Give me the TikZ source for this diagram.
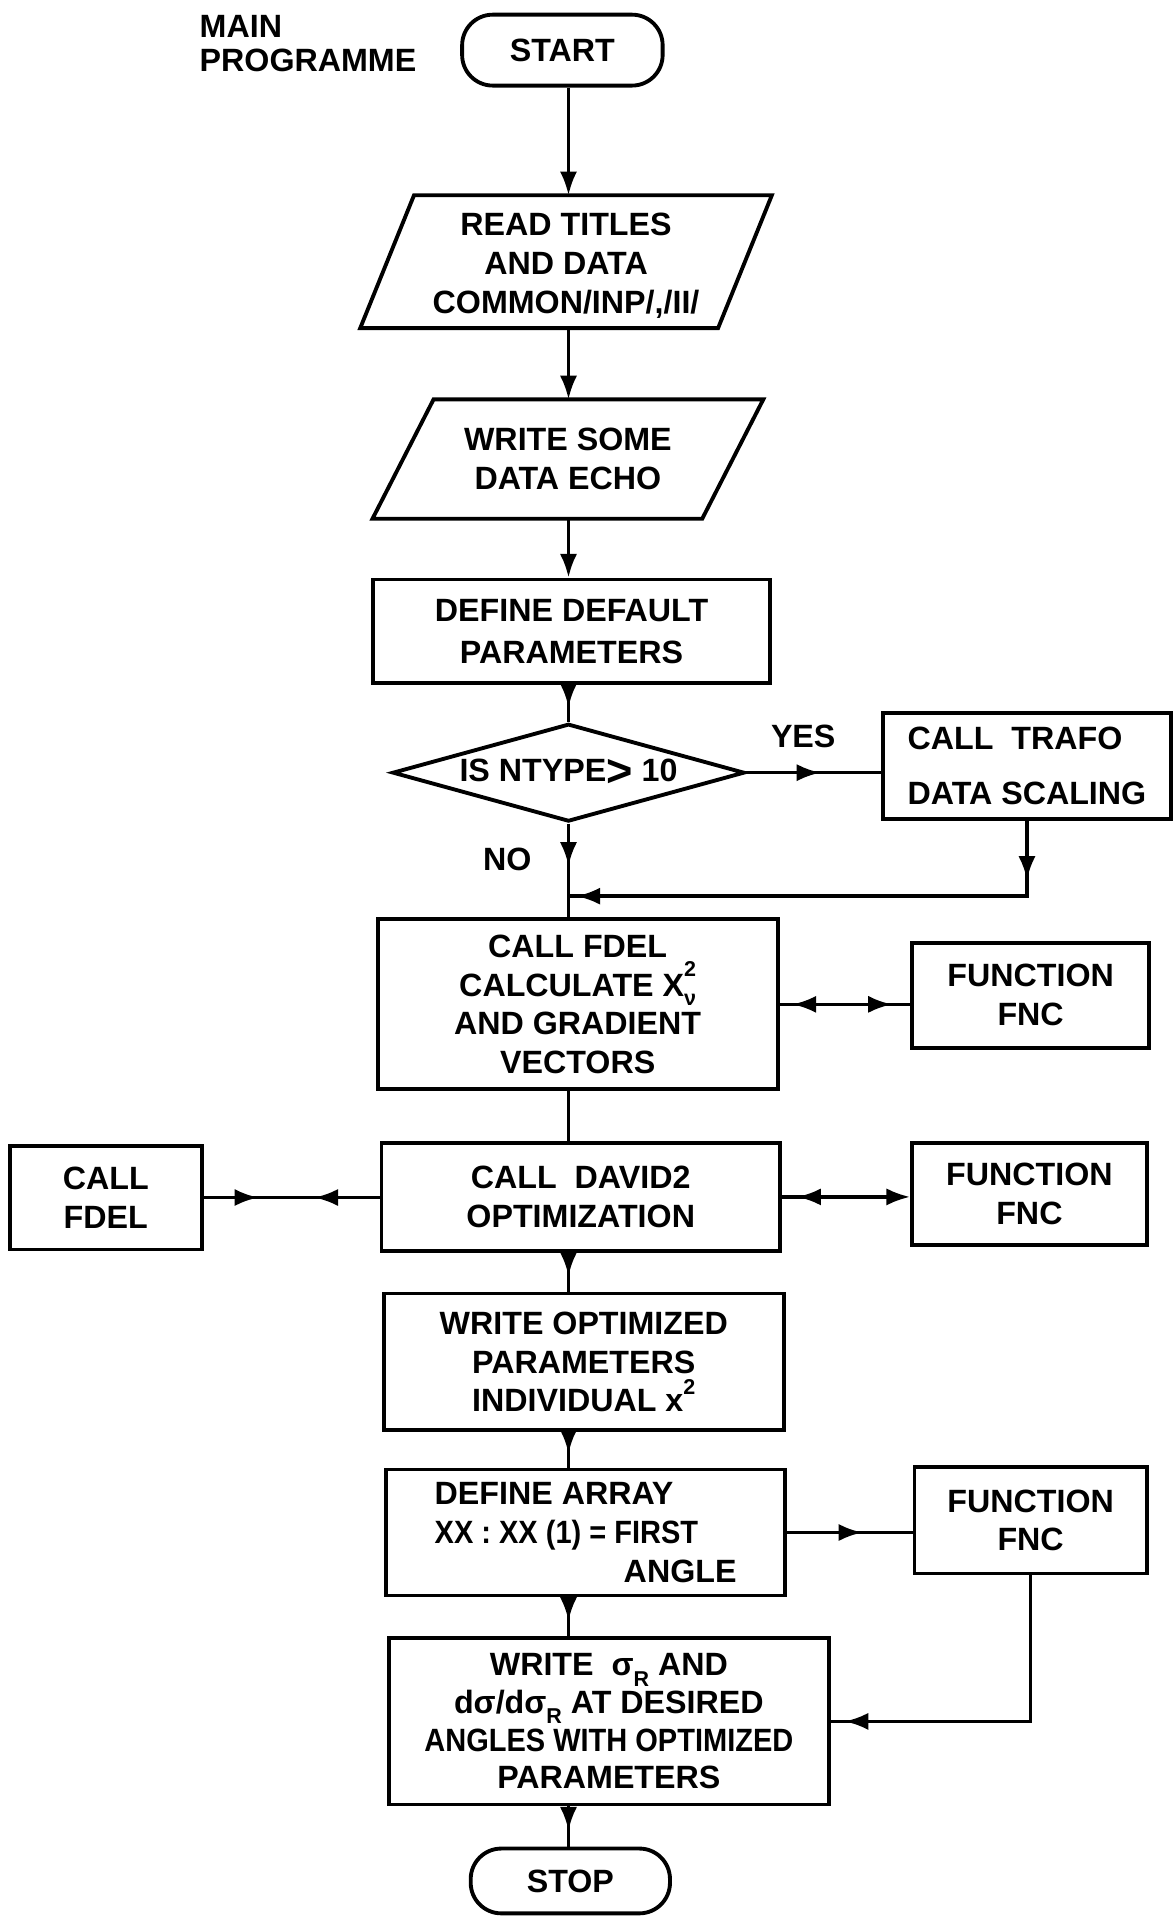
\documentclass[tikz,border=0pt]{standalone}
\usepackage{fontspec}
\setmainfont{Liberation Sans}
\usepackage{graphicx}
\usetikzlibrary{shapes.geometric,arrows.meta,decorations.markings}
\newcommand\supsubx[2]{\rlap{\raisebox{1.15ex}{\fontsize{10}{10}\selectfont #1}}\raisebox{-0.55ex}{\fontsize{10}{10}\selectfont #2}}
\newcommand\subx[1]{\raisebox{-0.6ex}{\fontsize{10}{10}\selectfont #1}}
\newcommand\supx[1]{\raisebox{1.0ex}{\fontsize{10}{10}\selectfont #1}}
\begin{document}
\begin{tikzpicture}[x=0.02cm, y=-0.02cm,
  every node/.style={font=\fontsize{15}{18}\selectfont\bfseries},
  box/.style={draw, rectangle, line width=1.8pt, inner sep=0pt, align=center},
  txt/.style={inner sep=0pt, align=center},
  sz/.style 2 args={minimum width=#1*0.02cm, minimum height=#2*0.02cm},
  term/.style={draw, rectangle, rounded corners=0.5cm, line width=1.8pt, inner sep=0pt},
  conn/.style={line width=1.6pt},
  endtip/.style={-{Latex[length=11pt,width=8pt]}},
  marr/.style={postaction={decorate, decoration={markings, mark=at position #1 with {\arrow{Latex[length=11pt,width=8pt]}}}}},
  marrl/.style={postaction={decorate, decoration={markings, mark=at position #1 with {\arrowreversed{Latex[length=11pt,width=8pt]}}}}},
]
\path[use as bounding box] (0,0) rectangle (961,1568);

\coordinate (col) at (465,0);
\coordinate (join) at (465,733);

\node[txt, align=left, anchor=north west, font=\fontsize{15}{16}\selectfont\bfseries] (title) at (163,12) {MAIN\\PROGRAMME};

\node[term, sz={164}{58}] (start) at (460,41) {START};

\node[txt, sz={292}{108}] (read) at (463,214) {\raisebox{-12pt}{\smash{\begin{tabular}{@{}c@{}}READ TITLES\\AND DATA\\COMMON/INP/,/II/\end{tabular}}}};
\draw[line width=1.8pt] ([xshift=0.44cm]read.north west) -- ([xshift=0.44cm]read.north east) -- ([xshift=-0.44cm]read.south east) -- ([xshift=-0.44cm]read.south west) -- cycle;

\node[txt, sz={269}{97}] (write) at (464.5,375.5) {WRITE SOME\\DATA ECHO};
\draw[line width=1.8pt] ([xshift=0.5cm]write.north west) -- ([xshift=0.5cm]write.north east) -- ([xshift=-0.5cm]write.south east) -- ([xshift=-0.5cm]write.south west) -- cycle;

\node[box, sz={325}{85}, font=\fontsize{15}{19.5}\selectfont\bfseries] (define) at (467.5,516.5) {DEFINE DEFAULT\\PARAMETERS};

\node[draw, diamond, aspect=3.6, line width=1.8pt, inner sep=0pt, sz={288}{80}] (dia) at (465,632) {IS NTYPE\raisebox{-2pt}{\fontsize{21}{21}\selectfont >} 10};

\node[box, sz={236}{87}, align=left, font=\fontsize{15}{25.5}\selectfont\bfseries] (trafo) at (840,626.5) {CALL\ \ TRAFO\\DATA SCALING};

\node[txt] (yes) at (657,602) {YES};
\node[txt] (no) at (415,703) {NO};

\node[box, sz={327}{139}] (fdel) at (472.5,821.5) {CALL FDEL\\CALCULATE X\supsubx{2}{ν}\\AND GRADIENT\\VECTORS};
\node[box, sz={194}{86}] (fnc1) at (843,814) {FUNCTION\\FNC};

\node[box, sz={157}{85}] (lfdel) at (86.5,979.5) {CALL\\FDEL};
\node[box, sz={326}{88}] (david) at (475,979) {CALL\ \ DAVID2\\OPTIMIZATION};
\node[box, sz={192}{83}] (fnc2) at (842,976.5) {FUNCTION\\FNC};

\node[box, sz={327}{112}] (wopt) at (477.5,1114) {WRITE OPTIMIZED\\PARAMETERS\\INDIVIDUAL x\supx{2}};

\node[box, sz={326}{103}, align=left] (array) at (479,1253.5) {DEFINE ARRAY\\\scalebox{0.9}[1]{XX : XX (1) = FIRST}\\\hspace*{88pt}ANGLE};
\node[box, sz={190}{87}] (fnc3) at (843,1243.5) {FUNCTION\\FNC};

\node[box, sz={360}{136}, font=\fontsize{15}{17.5}\selectfont\bfseries] (sigma) at (498,1408) {WRITE\ \ σ\subx{R} AND\\dσ/dσ\subx{R} AT DESIRED\\\scalebox{0.9}[1]{ANGLES WITH OPTIMIZED}\\PARAMETERS};

\node[term, sz={163}{53}] (stop) at (466.5,1538.5) {STOP};

% connectors
\draw[conn, endtip] (start.south -| col) -- (read.north -| col);
\draw[conn, endtip] (read.south -| col) -- (write.north -| col);
\draw[conn, endtip] (write.south -| col) -- (define.north -| col);
\draw[conn, marr=0.6] (define.south -| col) -- (dia.north);
\draw[conn, marr=0.55] (dia.east) -- (dia.east -| trafo.west);
\draw[conn, marr=0.45] (dia.south) -- (dia.south |- fdel.north);
\draw[conn, marr=0.11, marr=0.985] (trafo.south) -- (trafo.south |- join) -- (join);
\draw[conn, marrl=0.1, marr=0.86] (fdel.east) -- (fdel.east -| fnc1.west);
\draw[conn] (fdel.south -| col) -- (david.north -| col);
\draw[conn, marr=0.31, marrl=0.63] (lfdel.east) -- (lfdel.east -| david.west);
\draw[conn, marrl=0.12, endtip] (david.east) -- (david.east -| fnc2.west);
\draw[conn, marr=0.6] (david.south -| col) -- (wopt.north -| col);
\draw[conn, marr=0.6] (wopt.south -| col) -- (array.north -| col);
\draw[conn, marr=0.6] (array.east) -- (array.east -| fnc3.west);
\draw[conn, marr=0.6] (array.south -| col) -- (sigma.north -| col);
\draw[conn, marr=0.96] (fnc3.south) -- (fnc3.south |- sigma.east) -- (sigma.east);
\draw[conn, marr=0.6] (sigma.south -| col) -- (stop.north -| col);
\end{tikzpicture}
\end{document}
